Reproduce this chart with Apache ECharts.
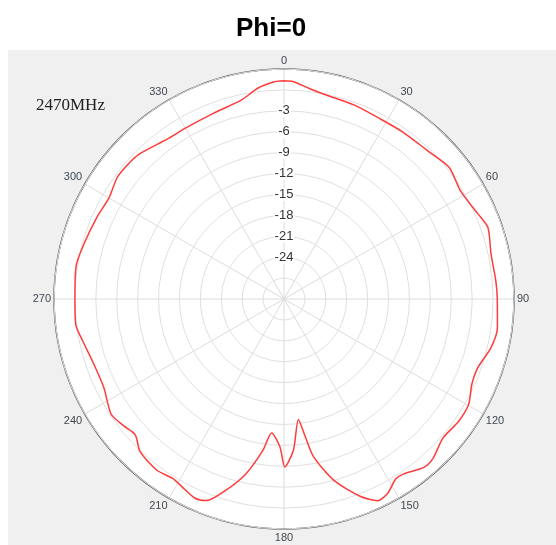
<!DOCTYPE html>
<html>
<head>
<meta charset="utf-8">
<script src="https://cdn.jsdelivr.net/npm/echarts@6/dist/echarts.min.js"></script>
<style>html,body{margin:0;padding:0;background:#fff;}#c{width:556px;height:545px;}</style>
</head>
<body>
<div id="c"></div>
<script>
var titleText = 'Phi=0';
var freqLabel = '2470MHz';
var angles = [0, 2.5, 7, 12.9, 19.8, 28.2, 35.8, 43.8, 51.4, 58.5, 66.4, 70.7, 77.7, 85, 90, 97.7, 103.3, 109.5, 114.4, 119.7, 124.9, 131.2, 136.9, 140.3, 145.6, 148.2, 151.9, 155.1, 158.8, 164.6, 169.4, 171.2, 173.2, 176.4, 179.7, 181.6, 185.3, 187.9, 192.2, 196.8, 201.1, 204.2, 208.2, 211.7, 216.7, 223.3, 227.6, 231.5, 236.3, 243.9, 252.1, 258.2, 263, 270, 279, 285, 293.5, 300, 306, 310, 315, 324, 330, 339, 348, 353, 357.5, 360];
var gains = [1.3, 1.2, 0.4, -0.2, -0.4, -0.7, -0.6, -0.4, 0.3, -0.3, 0.4, 1.0, 0.4, 0.5, 0.6, 0.9, 0.5, -0.5, -0.4, 0.5, 0.6, 0.3, 1.3, 1.4, 0.4, 0.4, 1.6, 1.9, 0.4, -3.0, -7.0, -10.0, -12.6, -8.3, -5.9, -8.8, -10.7, -8.1, -4.4, -1.4, 1.0, 1.3, 0.7, 0.3, 0.6, 0.1, -1.1, -0.7, -0.2, -1.2, -1.1, -0.5, 0.1, 0.0, 0.2, -0.2, -0.7, -1.0, -0.4, -0.4, -0.6, -1.6, -1.7, -1.5, -0.8, 0.5, 1.2, 1.3];
var radiusTicks = [-3, -6, -9, -12, -15, -18, -21, -24];
var angleTicks = [0, 30, 60, 90, 120, 150, 180, 210, 240, 270, 300, 330];

var data = angles.map(function (a, i) { return [gains[i], a]; });

var chart = echarts.init(document.getElementById('c'), null, {renderer: 'canvas'});
chart.setOption({
  backgroundColor: '#ffffff',
  animation: false,
  graphic: [{
    type: 'rect', z: -10, silent: true,
    shape: {x: 8, y: 50, width: 548, height: 495},
    style: {fill: '#f0f0f0'}
  }, {
    type: 'circle', z: -9, silent: true,
    shape: {cx: 284, cy: 299, r: 230},
    style: {fill: '#ffffff'}
  }],
  title: [{
    text: titleText, left: 231, top: 11,
    textStyle: {fontFamily: 'Liberation Sans, Arial, sans-serif', fontSize: 26, fontWeight: 'bold', color: '#000'}
  }, {
    text: freqLabel, left: 31, top: 92,
    textStyle: {fontFamily: 'Liberation Serif, Times New Roman, serif', fontSize: 17, fontWeight: 'normal', color: '#222'}
  }],
  polar: {center: [284, 299], radius: 230},
  angleAxis: {
    type: 'value', min: 0, max: 360, interval: 30, startAngle: 90, clockwise: true,
    axisLine: {show: true, lineStyle: {color: '#555', width: 1.5}},
    axisTick: {show: false},
    axisLabel: {
      margin: 3, fontSize: 11, color: '#404850', fontFamily: 'Liberation Sans, Arial, sans-serif',
      formatter: function (v) { return angleTicks.indexOf(v) >= 0 ? String(v) : ''; }
    },
    splitLine: {show: true, lineStyle: {color: '#dcdcdc', width: 1}}
  },
  radiusAxis: {
    type: 'value', min: -30, max: 3, interval: 3,
    axisLine: {show: false},
    axisTick: {show: false},
    axisLabel: {
      margin: 0, align: 'center', verticalAlign: 'middle', fontSize: 13, color: '#333',
      fontFamily: 'Liberation Sans, Arial, sans-serif', backgroundColor: '#fff', padding: [0, 1],
      formatter: function (v) { return radiusTicks.indexOf(v) >= 0 ? String(v) : ''; }
    },
    splitLine: {show: true, lineStyle: {color: '#e0e0e0', width: 1}},
    z: 1
  },
  series: [{
    type: 'line', coordinateSystem: 'polar', data: data,
    showSymbol: false, smooth: 0.25,
    lineStyle: {color: '#ff3b3b', width: 1.5},
    z: 5
  }]
});
</script>
</body>
</html>
